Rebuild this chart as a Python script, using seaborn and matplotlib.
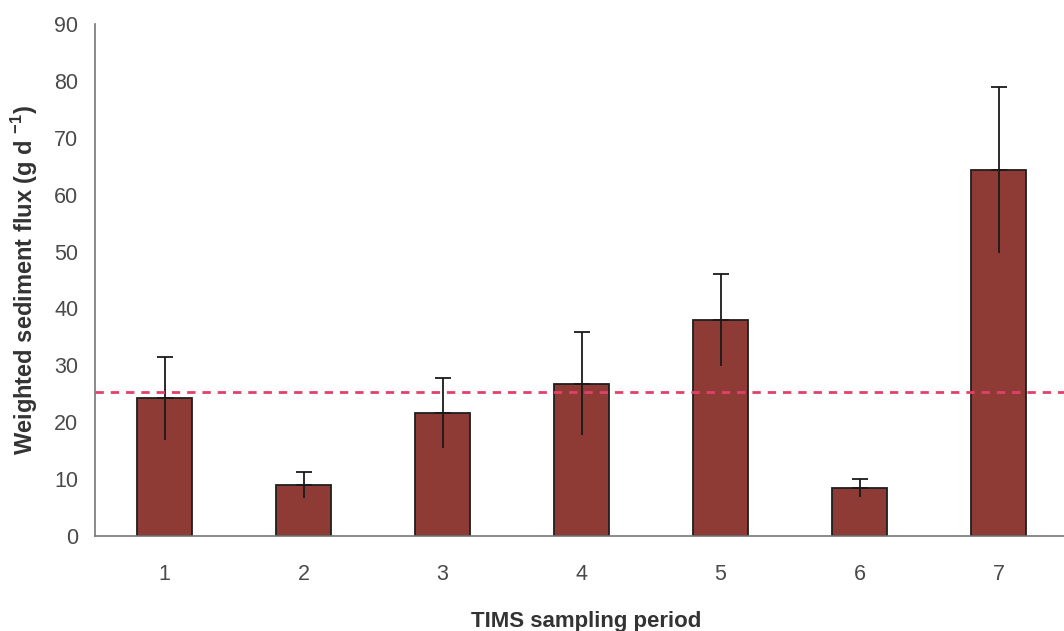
import matplotlib
matplotlib.use("Agg")
import matplotlib.pyplot as plt
import seaborn as sns
import numpy as np
import pandas as pd

periods = ["1", "2", "3", "4", "5", "6", "7"]
flux = [24.2, 8.9, 21.6, 26.8, 38.0, 8.5, 64.4]
flux_err = [7.3, 2.3, 6.1, 9.1, 8.1, 1.6, 14.6]
mean_flux = 25.4
y_ticks = [0, 10, 20, 30, 40, 50, 60, 70, 80, 90]

sns.set_theme(style="white")
plt.rcParams['font.family'] = ['Liberation Sans', 'DejaVu Sans']
plt.rcParams['mathtext.fontset'] = 'custom'
plt.rcParams['mathtext.rm'] = 'Liberation Sans:bold'
plt.rcParams['mathtext.bf'] = 'Liberation Sans:bold'

W, H = 1064, 631
fig = plt.figure(figsize=(W / 100, H / 100), dpi=100)
ax = fig.add_axes([95 / W, 1 - 536 / H, 973 / W, (536 - 24) / H])

df = pd.DataFrame({"period": periods, "flux": flux})
bar_color = "#8E3B36"
sns.barplot(data=df, x="period", y="flux", color=bar_color, saturation=1,
            width=0.4, edgecolor="#1f1f1f", linewidth=1.3, ax=ax, errorbar=None)

xs = np.arange(len(periods))
zeros = np.zeros(len(periods))
ax.errorbar(xs, flux, yerr=[zeros, flux_err], fmt="none", ecolor="#1a1a1a",
            elinewidth=1.3, capsize=5.5, capthick=1.3, zorder=4)
ax.errorbar(xs, flux, yerr=[flux_err, zeros], fmt="none", ecolor="#1a1a1a",
            elinewidth=1.3, capsize=0, zorder=4)

ax.axhline(mean_flux, color="#E2406A", linestyle=(0, (3, 2.5)), linewidth=2, zorder=5)

ax.set_xlim(-0.5, len(periods) - 0.5)
ax.set_ylim(0, 90)
ax.set_yticks(y_ticks)
ax.set_yticklabels([str(t) for t in y_ticks])

# x ticks: marks at category boundaries, labels at centers
ax.set_xticks(np.arange(len(periods) + 1) - 0.5)
ax.set_xticklabels([""] * (len(periods) + 1))
ax.set_xticks(xs, minor=True)
ax.set_xticklabels(periods, minor=True)
ax.tick_params(axis="x", which="major", direction="out", length=5, width=1, color="#777777")
ax.tick_params(axis="x", which="minor", length=0, pad=20, labelsize=15.5, labelcolor="#4a4a4a")
ax.tick_params(axis="y", direction="out", length=5, width=1, color="#777777",
               pad=7, labelsize=15.5, labelcolor="#4a4a4a")

for s in ["top", "right"]:
    ax.spines[s].set_visible(False)
for s in ["left", "bottom"]:
    ax.spines[s].set_color("#777777")
    ax.spines[s].set_linewidth(1.2)

ax.set_ylabel(r"Weighted sediment flux (g d $^{\mathbf{-1}}$)", fontsize=17,
              fontweight="bold", color="#333333", labelpad=10)
ax.set_xlabel("TIMS sampling period", fontsize=16, fontweight="bold",
              color="#333333", labelpad=19)
ax.xaxis.label.set_x(0.505)

fig.savefig("out.png", dpi=100)
